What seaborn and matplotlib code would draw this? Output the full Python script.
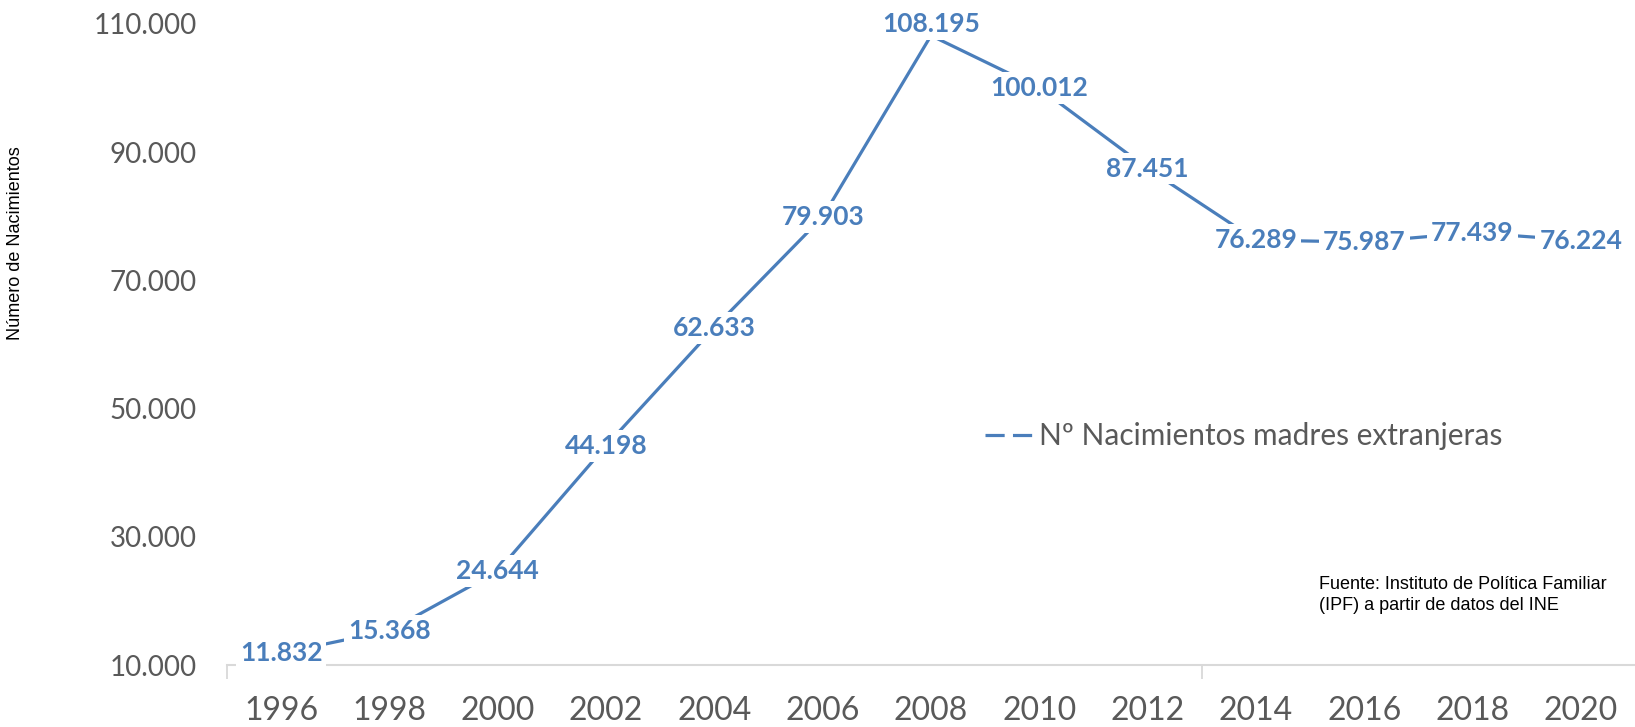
import numpy as np
import pandas as pd
import matplotlib
matplotlib.use("Agg")
import matplotlib.pyplot as plt
import seaborn as sns

years = [1996, 1998, 2000, 2002, 2004, 2006, 2008, 2010, 2012, 2014, 2016, 2018, 2020]
births = [11832, 15368, 24644, 44198, 62633, 79903, 108195, 100012, 87451, 76289, 75987, 77439, 76224]
value_labels = ["11.832", "15.368", "24.644", "44.198", "62.633", "79.903", "108.195",
                "100.012", "87.451", "76.289", "75.987", "77.439", "76.224"]
y_ticks = [10000, 30000, 50000, 70000, 90000, 110000]
y_tick_labels = ["10.000", "30.000", "50.000", "70.000", "90.000", "110.000"]
series_name = "Nº Nacimientos madres extranjeras"

df = pd.DataFrame({"Año": years, "Nacimientos": births})

sns.set_style("white")
plt.rcParams["font.family"] = ["Lato", "DejaVu Sans"]

blue = "#4a7ebb"
grey = "#595959"

fig = plt.figure(figsize=(16.35, 7.27), dpi=100)
ax = fig.add_axes([227 / 1635, 1 - 665 / 727, 1 - 227 / 1635, (665 - 24) / 727])

sns.lineplot(data=df, x="Año", y="Nacimientos", color=blue, linewidth=2.3,
             label=series_name, ax=ax, zorder=2)

for x, y, txt in zip(years, births, value_labels):
    va = "bottom" if y > 105000 else "center"
    ax.text(x, y, txt, ha="center", va=va, color=blue, fontsize=19, fontweight="bold",
            bbox=dict(boxstyle="square,pad=0.15", fc="white", ec="none"), zorder=4)

ax.set_xlim(1995, 2021)
ax.set_ylim(10000, 110000)
ax.set_xticks(years)
ax.set_xticklabels([str(y) for y in years], fontsize=23, color=grey)
ax.set_xticks([1995, 2013], minor=True)
ax.tick_params(axis="x", which="major", length=0, pad=22)
ax.tick_params(axis="x", which="minor", bottom=True, length=10, width=1.3,
               color="#d9d9d9", direction="out")
ax.set_yticks(y_ticks)
ax.set_yticklabels(y_tick_labels, fontsize=20, color=grey)
ax.tick_params(axis="y", length=0, pad=22)
ax.set_xlabel("")
ax.set_ylabel("")

for side in ["left", "right", "top"]:
    ax.spines[side].set_visible(False)
ax.spines["bottom"].set_color("#d9d9d9")
ax.spines["bottom"].set_linewidth(1.5)

leg = ax.legend(loc="center left", bbox_to_anchor=(958 / 1635, 1 - 436 / 727),
                bbox_transform=fig.transFigure, frameon=False, fontsize=21.5,
                handlelength=1.7, handletextpad=0.1)
for t in leg.get_texts():
    t.set_color(grey)
for ln in leg.get_lines():
    ln.set_linestyle((0, (6, 2.6)))
    ln.set_linewidth(2.3)

fig.text(16 / 1635, 1 - 243 / 727, "Número de Nacimientos", rotation=90,
         ha="center", va="center", fontsize=13, color="black",
         family=["Liberation Sans", "DejaVu Sans"])

fig.text(1319 / 1635, 1 - 595 / 727,
         "Fuente: Instituto de Política Familiar\n(IPF) a partir de datos del INE",
         ha="left", va="center", fontsize=13, color="black", linespacing=1.25,
         family=["Liberation Sans Narrow", "Liberation Sans", "DejaVu Sans"])

fig.savefig("out.png", dpi=100)
